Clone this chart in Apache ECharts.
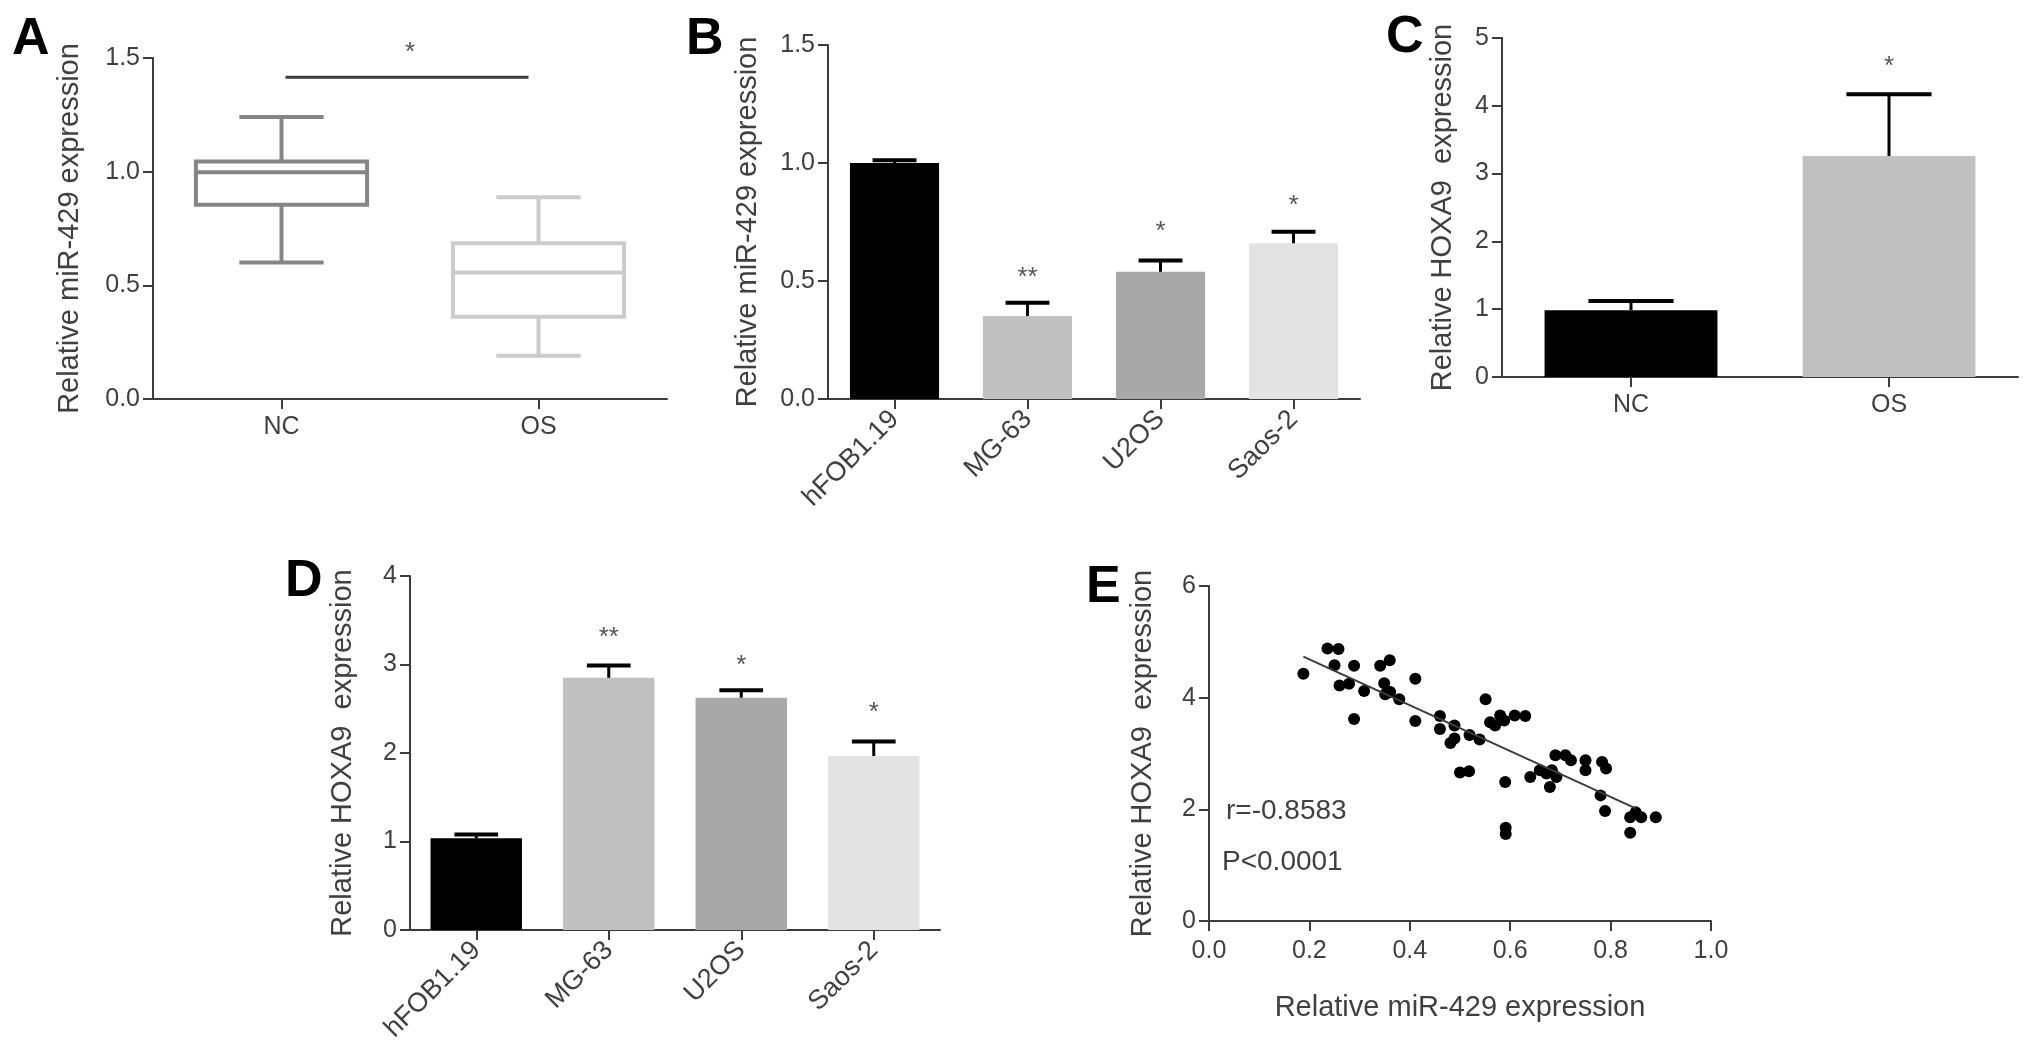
<!DOCTYPE html>
<html>
<head>
<meta charset="utf-8">
<script src="https://cdn.jsdelivr.net/npm/echarts@6/dist/echarts.min.js"></script>
<style>
  html, body { margin: 0; padding: 0; background: #fff; }
  #chart { width: 2031px; height: 1061px; }
</style>
</head>
<body>
<div id="chart"></div>
<script>
// ---- data ----

// A: miR-429 box plots [min, Q1, median, Q3, max]
var groupsA = ["NC", "OS"];
var boxA = [
  [0.60, 0.855, 0.997, 1.045, 1.24],
  [0.19, 0.362, 0.556, 0.685, 0.888]
];
var sigLineA = 1.415;
var sigStarA = 1.55;

// B: miR-429 in cell lines (mean, upper SD)
var cellLines = ["hFOB1.19", "MG-63", "U2OS", "Saos-2"];
var meanB = [1.0, 0.352, 0.539, 0.660];
var errB = [0.012, 0.056, 0.048, 0.049];
var starB = ["", "**", "*", "*"];
var starAtB = [0, 0.54, 0.735, 0.845];

// C: HOXA9 in tissue
var groupsC = ["NC", "OS"];
var meanC = [0.985, 3.26];
var errC = [0.135, 0.91];
var starC = ["", "*"];
var starAtC = [0, 4.66];

// D: HOXA9 in cell lines
var meanD = [1.036, 2.85, 2.625, 1.966];
var errD = [0.044, 0.14, 0.085, 0.164];
var starD = ["", "**", "*", "*"];
var starAtD = [0, 3.37, 3.05, 2.52];

// E: correlation scatter
var mirE = [0.188, 0.236, 0.258, 0.250, 0.260, 0.279, 0.289, 0.289, 0.309, 0.341,
            0.360, 0.349, 0.351, 0.361, 0.379, 0.411, 0.411, 0.460, 0.460, 0.489,
            0.481, 0.489, 0.500, 0.518, 0.519, 0.539, 0.551, 0.560, 0.570, 0.580,
            0.588, 0.609, 0.630, 0.590, 0.591, 0.591, 0.640, 0.659, 0.672, 0.679,
            0.683, 0.692, 0.690, 0.710, 0.721, 0.750, 0.750, 0.783, 0.791, 0.780,
            0.789, 0.839, 0.850, 0.861, 0.839, 0.890];
var hoxE = [4.43, 4.88, 4.87, 4.58, 4.22, 4.25, 4.57, 3.62, 4.12, 4.57,
            4.67, 4.26, 4.06, 4.10, 3.97, 4.34, 3.58, 3.67, 3.44, 3.50,
            3.19, 3.27, 2.66, 2.68, 3.33, 3.25, 3.97, 3.56, 3.50, 3.68,
            3.59, 3.68, 3.67, 2.49, 1.67, 1.56, 2.58, 2.70, 2.64, 2.40,
            2.70, 2.58, 2.97, 2.97, 2.88, 2.88, 2.70, 2.85, 2.73, 2.25,
            1.97, 1.86, 1.95, 1.86, 1.58, 1.86];
var statR = "r=-0.8583";
var statP = "P<0.0001";

var barGreys = ["#000000", "#c0c0c0", "#a8a8a8", "#e3e3e3"];
var boxGreys = ["#858585", "#cbcbcb"];

// ---- helpers ----
var FONT = "'Liberation Sans', Arial, sans-serif";
var AXIS = "#3c3c3c";
var TEXT = "#404040";

function valueAxis(grid, max, interval, digits, name, gap) {
  return {
    type: "value", gridIndex: grid, min: 0, max: max, interval: interval,
    name: name, nameLocation: "middle", nameGap: gap, nameRotate: 90,
    nameTextStyle: { fontFamily: FONT, fontSize: 29, color: TEXT },
    axisLine: { show: true, lineStyle: { color: AXIS, width: 2 } },
    axisTick: { show: true, inside: false, length: 10, lineStyle: { color: AXIS, width: 2 } },
    axisLabel: {
      margin: 13, fontFamily: FONT, fontSize: 25, color: TEXT,
      formatter: function (v) { return v.toFixed(digits); }
    },
    splitLine: { show: false }
  };
}

function catAxis(grid, cats, rotate) {
  return {
    type: "category", gridIndex: grid, data: cats,
    axisLine: { show: true, lineStyle: { color: AXIS, width: 2 } },
    axisTick: { show: true, alignWithLabel: true, length: 10, lineStyle: { color: AXIS, width: 2 } },
    axisLabel: { margin: rotate ? 16 : 16, rotate: rotate, fontFamily: FONT,
      fontSize: rotate ? 27 : 25, color: TEXT }
  };
}

function barData(values) {
  return values.map(function (v, i) {
    return { value: v, itemStyle: { color: barGreys[i] } };
  });
}

function starText(x, y, txt) {
  return { type: "text", x: x, y: y + 6,
    style: { text: txt, fill: "#555", font: "26px " + FONT, align: "center", verticalAlign: "middle" } };
}

// upper SD whisker + significance stars
function errorBars(means, errs, stars, starAt) {
  return function (params, api) {
    var i = api.value(0);
    var base = api.coord([i, means[i]]);
    var top = api.coord([i, means[i] + errs[i]]);
    var cap = api.size([1, 0])[0] * 0.33;
    var kids = [
      { type: "line", shape: { x1: base[0], y1: base[1], x2: top[0], y2: top[1] },
        style: { stroke: "#000", lineWidth: 3 } },
      { type: "line", shape: { x1: top[0] - cap / 2, y1: top[1], x2: top[0] + cap / 2, y2: top[1] },
        style: { stroke: "#000", lineWidth: 4 } }
    ];
    if (stars[i]) {
      var s = api.coord([i, starAt[i]]);
      kids.push(starText(s[0], s[1], stars[i]));
    }
    return { type: "group", children: kids };
  };
}

function boxItem(params, api) {
  var i = api.value(0);
  var b = boxA[i];
  var band = api.size([1, 0])[0];
  var half = band * 0.333, capHalf = band * 0.164;
  var pMin = api.coord([i, b[0]]), pQ1 = api.coord([i, b[1]]), pMed = api.coord([i, b[2]]);
  var pQ3 = api.coord([i, b[3]]), pMax = api.coord([i, b[4]]);
  var x = pMin[0];
  var st = { stroke: boxGreys[i], lineWidth: 4, fill: null };
  return {
    type: "group",
    children: [
      { type: "line", shape: { x1: x, y1: pMax[1], x2: x, y2: pQ3[1] }, style: st },
      { type: "line", shape: { x1: x, y1: pQ1[1], x2: x, y2: pMin[1] }, style: st },
      { type: "line", shape: { x1: x - capHalf, y1: pMax[1], x2: x + capHalf, y2: pMax[1] }, style: st },
      { type: "line", shape: { x1: x - capHalf, y1: pMin[1], x2: x + capHalf, y2: pMin[1] }, style: st },
      { type: "rect", shape: { x: x - half, y: pQ3[1], width: half * 2, height: pQ1[1] - pQ3[1] },
        style: { stroke: boxGreys[i], lineWidth: 4, fill: "#fff" } },
      { type: "line", shape: { x1: x - half, y1: pMed[1], x2: x + half, y2: pMed[1] }, style: st }
    ]
  };
}

// bracket line between NC and OS with its star
function sigItem(params, api) {
  var a = api.coord([0, sigLineA]);
  var b = api.coord([1, sigLineA]);
  var s = api.coord([0, sigStarA]);
  return {
    type: "group",
    children: [
      { type: "line", shape: { x1: a[0] + 4, y1: a[1], x2: b[0] - 10, y2: b[1] },
        style: { stroke: "#3c3c3c", lineWidth: 3 } },
      starText((a[0] + b[0]) / 2, s[1], "*")
    ]
  };
}

// least squares line for panel E
var n = mirE.length, sx = 0, sy = 0, sxx = 0, sxy = 0;
for (var k = 0; k < n; k++) {
  sx += mirE[k]; sy += hoxE[k]; sxx += mirE[k] * mirE[k]; sxy += mirE[k] * hoxE[k];
}
var slope = (n * sxy - sx * sy) / (n * sxx - sx * sx);
var icpt = (sy - slope * sx) / n;
var xLo = Math.min.apply(null, mirE), xHi = 0.85;
var fitLine = [[xLo, icpt + slope * xLo], [xHi, icpt + slope * xHi]];

var chart = echarts.init(document.getElementById("chart"), null, { renderer: "canvas" });

var option = {
  backgroundColor: "#ffffff",
  animation: false,
  grid: [
    { left: 153, top: 58, width: 514, height: 341 },
    { left: 828, top: 45, width: 532, height: 354 },
    { left: 1502, top: 38, width: 516, height: 339 },
    { left: 410, top: 576, width: 530, height: 354 },
    { left: 1209, top: 586, width: 502, height: 335 }
  ],
  xAxis: [
    catAxis(0, groupsA, 0),
    catAxis(1, cellLines, 45),
    catAxis(2, groupsC, 0),
    catAxis(3, cellLines, 45),
    {
      type: "value", gridIndex: 4, min: 0, max: 1, interval: 0.2,
      name: "Relative miR-429 expression", nameLocation: "middle", nameGap: 72,
      nameTextStyle: { fontFamily: FONT, fontSize: 29, color: TEXT },
      axisLine: { show: true, lineStyle: { color: AXIS, width: 2 } },
      axisTick: { show: true, length: 10, lineStyle: { color: AXIS, width: 2 } },
      axisLabel: { margin: 18, fontFamily: FONT, fontSize: 25, color: TEXT,
        formatter: function (v) { return v.toFixed(1); } },
      splitLine: { show: false }
    }
  ],
  yAxis: [
    valueAxis(0, 1.5, 0.5, 1, "Relative miR-429 expression", 69),
    valueAxis(1, 1.5, 0.5, 1, "Relative miR-429 expression", 66),
    valueAxis(2, 5, 1, 0, "Relative HOXA9  expression", 45),
    valueAxis(3, 4, 1, 0, "Relative HOXA9  expression", 53),
    valueAxis(4, 6, 2, 0, "Relative HOXA9  expression", 52)
  ],
  series: [
    // A
    { type: "custom", xAxisIndex: 0, yAxisIndex: 0, renderItem: boxItem,
      data: groupsA.map(function (g, i) { return [i, boxA[i][4]]; }) },
    { type: "custom", xAxisIndex: 0, yAxisIndex: 0, renderItem: sigItem,
      data: [[0, sigLineA]] },
    // B
    { type: "bar", xAxisIndex: 1, yAxisIndex: 1, barWidth: "67%", data: barData(meanB) },
    { type: "custom", xAxisIndex: 1, yAxisIndex: 1, z: 5,
      renderItem: errorBars(meanB, errB, starB, starAtB),
      data: meanB.map(function (v, i) { return [i, v]; }) },
    // C
    { type: "bar", xAxisIndex: 2, yAxisIndex: 2, barWidth: "67%", data: barData(meanC) },
    { type: "custom", xAxisIndex: 2, yAxisIndex: 2, z: 5,
      renderItem: errorBars(meanC, errC, starC, starAtC),
      data: meanC.map(function (v, i) { return [i, v]; }) },
    // D
    { type: "bar", xAxisIndex: 3, yAxisIndex: 3, barWidth: "69%", data: barData(meanD) },
    { type: "custom", xAxisIndex: 3, yAxisIndex: 3, z: 5,
      renderItem: errorBars(meanD, errD, starD, starAtD),
      data: meanD.map(function (v, i) { return [i, v]; }) },
    // E
    { type: "scatter", xAxisIndex: 4, yAxisIndex: 4, symbolSize: 12,
      itemStyle: { color: "#000", opacity: 1 },
      data: mirE.map(function (x, i) { return [x, hoxE[i]]; }) },
    { type: "line", xAxisIndex: 4, yAxisIndex: 4, symbol: "none",
      lineStyle: { color: "#3c3c3c", width: 2 }, data: fitLine }
  ],
  graphic: [
    { type: "text", left: 12, top: 14, style: { text: "A", font: "bold 52px " + FONT, fill: "#000" } },
    { type: "text", left: 686, top: 14, style: { text: "B", font: "bold 52px " + FONT, fill: "#000" } },
    { type: "text", left: 1386, top: 12, style: { text: "C", font: "bold 52px " + FONT, fill: "#000" } },
    { type: "text", left: 285, top: 556, style: { text: "D", font: "bold 52px " + FONT, fill: "#000" } },
    { type: "text", left: 1086, top: 562, style: { text: "E", font: "bold 52px " + FONT, fill: "#000" } },
    { type: "text", left: 1226, top: 797, style: { text: statR, font: "28px " + FONT, fill: TEXT } },
    { type: "text", left: 1222, top: 848, style: { text: statP, font: "28px " + FONT, fill: TEXT } }
  ]
};

chart.setOption(option);
</script>
</body>
</html>
